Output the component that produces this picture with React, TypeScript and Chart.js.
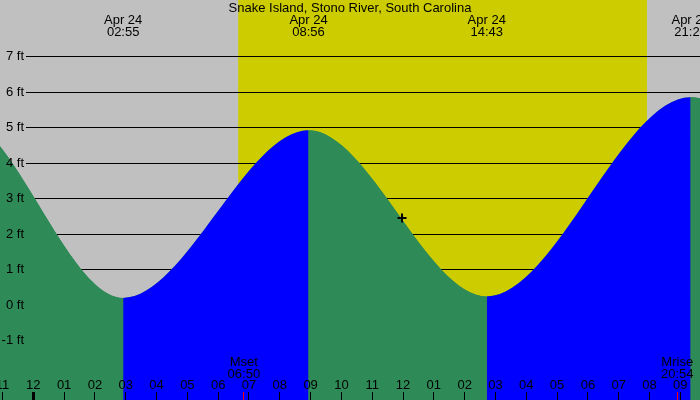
import React, { useEffect, useRef } from "react";
import { Chart, registerables } from "chart.js";

Chart.register(...registerables);

const TITLE = "Snake Island, Stono River, South Carolina";

// Tide extremes (day offset relative to Apr 24)
const tideDays = [-1, -1, 0, 0, 0, 0, 1];
const tideDates = ["Apr 23", "Apr 23", "Apr 24", "Apr 24", "Apr 24", "Apr 24", "Apr 25"];
const tideClock = ["15:10", "21:30", "02:55", "08:56", "14:43", "21:20", "03:40"];
const tideHeights = [0.3, 5.35, 0.2, 4.92, 0.24, 5.85, 0.05];

// Current time marker
const nowClock = ["11:58"];
const nowHeight = [2.45];

// Sun (daylight band) and moon events
const sunClock = ["06:39", "19:55"];
const moonNames = ["Mset", "Mrise"];
const moonClock = ["06:50", "20:54"];

// Axis ticks
const hourTicks = [-1, 0, 1, 2, 3, 4, 5, 6, 7, 8, 9, 10, 11, 12, 13, 14, 15, 16, 17, 18, 19, 20, 21];
const yTicks = [-1, 0, 1, 2, 3, 4, 5, 6, 7];

// Axis ranges (hours from Apr 24 00:00, feet)
const X_MIN = -1.081;
const X_MAX = 21.638;
const Y_MIN = -2.676;
const Y_MAX = 8.592;

const FONT_FAMILY = "'Liberation Sans', Arial, sans-serif";
const FONT_SIZE = 13;
const GRAY = "#c0c0c0";
const DAY = "#cccc00";
const FALL = "#2e8b57";
const RISE = "#0000ff";
const GRID_LEFT = 26;

const toHours = (clock: string, day = 0) => {
  const [h, m] = clock.split(":").map(Number);
  return day * 24 + h + m / 60;
};

const fmtHour = (v: number) => {
  const h = (((v % 12) + 12) % 12) || 12;
  return String(h).padStart(2, "0");
};

const zeroFit = (s: any) => {
  if (s.isHorizontal()) s.height = 0;
  else s.width = 0;
  s.paddingLeft = 0;
  s.paddingRight = 0;
  s.paddingTop = 0;
  s.paddingBottom = 0;
};

const decorPlugin = {
  id: "tideDecor",
  beforeDraw(chart: any) {
    const { ctx, chartArea, scales } = chart;
    const x = scales.x;
    ctx.save();
    ctx.fillStyle = GRAY;
    ctx.fillRect(0, 0, chart.width, chart.height);
    const x0 = x.getPixelForValue(toHours(sunClock[0]));
    const x1 = x.getPixelForValue(toHours(sunClock[1]));
    ctx.fillStyle = DAY;
    ctx.fillRect(x0, chartArea.top, x1 - x0, chartArea.bottom - chartArea.top);
    ctx.restore();
  },
  beforeDatasetsDraw(chart: any) {
    const { ctx, chartArea, scales } = chart;
    const y = scales.y;
    ctx.save();
    ctx.strokeStyle = "#000";
    ctx.lineWidth = 1;
    yTicks.forEach((v) => {
      const py = Math.round(y.getPixelForValue(v) - 0.5) + 0.5;
      ctx.beginPath();
      ctx.moveTo(GRID_LEFT, py);
      ctx.lineTo(chartArea.right, py);
      ctx.stroke();
    });
    ctx.restore();
  },
  afterDatasetsDraw(chart: any) {
    const { ctx, chartArea, scales } = chart;
    const x = scales.x;
    const bottom = chartArea.bottom;
    ctx.save();
    // hour tick marks
    ctx.fillStyle = "#000";
    hourTicks.forEach((h) => {
      const px = Math.floor(x.getPixelForValue(h));
      if (h % 24 === 0) ctx.fillRect(px - 1, bottom - 8, 3, 8);
      else ctx.fillRect(px, bottom - 8, 1, 8);
    });
    ctx.font = `${FONT_SIZE}px ${FONT_FAMILY}`;
    ctx.textAlign = "center";
    ctx.textBaseline = "alphabetic";
    // moon events
    moonClock.forEach((c, i) => {
      const px = x.getPixelForValue(toHours(c));
      ctx.fillStyle = "#ff0000";
      ctx.fillRect(Math.floor(px), bottom - 8, 1, 8);
      ctx.fillStyle = "#000";
      ctx.fillText(moonNames[i], px, 365.5);
      ctx.fillText(c, px, 377.5);
    });
    // tide extreme labels
    tideClock.forEach((c, i) => {
      const px = x.getPixelForValue(toHours(c, tideDays[i]));
      ctx.fillStyle = "#000";
      ctx.fillText(tideDates[i], px, 23.5);
      ctx.fillText(c, px, 35.5);
    });
    // title
    ctx.fillText(TITLE, (chartArea.left + chartArea.right) / 2, 11.5);
    ctx.restore();
  },
};

export default function App() {
  const ref = useRef<HTMLCanvasElement | null>(null);

  useEffect(() => {
    if (!ref.current) return;
    const tidePoints = tideClock.map((c, i) => ({ x: toHours(c, tideDays[i]), y: tideHeights[i] }));
    const nowPoints = nowClock.map((c, i) => ({ x: toHours(c), y: nowHeight[i] }));
    const font = { family: FONT_FAMILY, size: FONT_SIZE };
    const tideCommon = {
      data: tidePoints,
      borderWidth: 0,
      pointRadius: 0,
      pointHoverRadius: 0,
      fill: "start",
      cubicInterpolationMode: "monotone",
      capBezierPoints: false,
    };
    const chart = new Chart(ref.current, {
      type: "line",
      data: {
        datasets: [
          {
            label: "now",
            data: nowPoints,
            showLine: false,
            pointStyle: "cross",
            pointRadius: 4.5,
            pointHoverRadius: 4.5,
            pointBorderWidth: 2,
            pointBorderColor: "#000",
            borderColor: "#000",
            order: 0,
          } as any,
          {
            label: "tide",
            ...tideCommon,
            backgroundColor: FALL,
            segment: {
              backgroundColor: (ctx: any) => (ctx.p1.parsed.y > ctx.p0.parsed.y ? RISE : FALL),
            },
            order: 1,
          } as any,
          {
            label: "tide base",
            ...tideCommon,
            backgroundColor: FALL,
            order: 2,
          } as any,
        ],
      },
      options: {
        responsive: false,
        maintainAspectRatio: false,
        animation: false,
        events: [],
        layout: { padding: 0, autoPadding: false },
        plugins: {
          legend: { display: false },
          tooltip: { enabled: false },
          title: { display: false },
        },
        scales: {
          x: {
            type: "linear",
            position: "bottom",
            min: X_MIN,
            max: X_MAX,
            grid: { display: false },
            border: { display: false },
            afterBuildTicks: (s: any) => {
              s.ticks = hourTicks.map((v) => ({ value: v }));
            },
            afterFit: zeroFit,
            ticks: {
              mirror: true,
              padding: 7.2,
              z: 1,
              color: "#000",
              font,
              autoSkip: false,
              maxRotation: 0,
              minRotation: 0,
              callback: (v: any) => fmtHour(Number(v)),
            },
          },
          y: {
            type: "linear",
            position: "left",
            min: Y_MIN,
            max: Y_MAX,
            grid: { display: false },
            border: { display: false },
            afterBuildTicks: (s: any) => {
              s.ticks = yTicks.map((v) => ({ value: v }));
            },
            afterFit: zeroFit,
            ticks: {
              mirror: true,
              crossAlign: "far",
              padding: 1.6,
              z: 1,
              color: "#000",
              font,
              callback: (v: any) => `${v} ft`,
            },
          },
        },
      } as any,
      plugins: [decorPlugin],
    });
    return () => chart.destroy();
  }, []);

  return (
    <div style={{ position: "fixed", left: 0, top: 0, width: 700, height: 400 }}>
      <canvas ref={ref} width={700} height={400} style={{ width: 700, height: 400, display: "block" }} />
    </div>
  );
}
